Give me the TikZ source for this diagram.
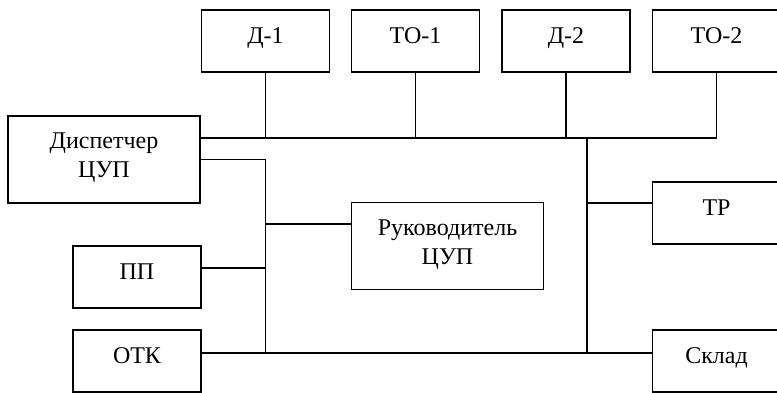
\documentclass[tikz,border=0pt]{standalone}
\usepackage{fontspec}
\setmainfont{Liberation Serif}
\usepackage{tikz}
\usetikzlibrary{positioning,calc}
\tikzset{
  base box/.style={
    draw=black,
    line width=1.4pt,
    align=center,
    inner sep=0pt,
    font=\fontsize{24}{29}\selectfont,
  },
  unit box/.style={
    base box,
    minimum width=128pt,
    minimum height=62pt,
    text height=16pt,
    text depth=11pt,
  },
  wide box/.style={
    base box,
    minimum width=192pt,
    minimum height=87pt,
    text depth=8pt,
  },
  link/.style={
    line width=1.4pt,
    draw=black,
  },
}

\begin{document}
\begin{tikzpicture}[x=1pt,y=-1pt]
  \useasboundingbox (0,0) rectangle (777,392);
  \clip (0,0) rectangle (777,392);
  \fill[white] (0,0) rectangle (777,392);
  % top row
  \node[unit box] (d1)  at (265.5,41) {Д-1};
  \node[unit box] (to1) at (415.5,41) {ТО-1};
  \node[unit box] (d2)  at (566,41)   {Д-2};
  \node[unit box] (to2) at (716.5,41) {ТО-2};
  % left column
  \node[wide box] (disp) at (104,159.5) {Диспетчер\\ЦУП};
  \node[unit box] (pp)   at (137,277)   {ПП};
  \node[unit box] (otk)  at (137,361)   {ОТК};
  % middle and right
  \node[wide box] (ruk)   at (447.5,246) {Руководитель\\ЦУП};
  \node[unit box] (tr)    at (716.5,213) {ТР};
  \node[unit box] (sklad) at (716.5,361) {Склад};
  \coordinate (bus) at (0,138);
  \coordinate (rv) at (587,0);
  % connections
  \draw[link] (disp.east |- bus) -- (to2.south |- bus) -- (to2.south);
  \foreach \n in {d1,to1,d2}
    \draw[link] (\n.south) -- (\n.south |- bus);
  \draw[link] (disp.east) -| ([yshift=8pt]otk.east -| d1.south);
  \draw[link] ([yshift=22pt]ruk.west) -- ([yshift=22pt]ruk.west -| d1.south);
  \draw[link] ([yshift=9pt]pp.east) -- ([yshift=9pt]pp.east -| d1.south);
  \draw[link] ([yshift=8pt]otk.east) -- ([yshift=8pt]sklad.west);
  \draw[link] (rv |- bus) -- ([yshift=8pt]sklad.west -| rv);
  \draw[link] ([yshift=10pt]tr.west) -- ([yshift=10pt]tr.west -| rv);
\end{tikzpicture}
\end{document}
